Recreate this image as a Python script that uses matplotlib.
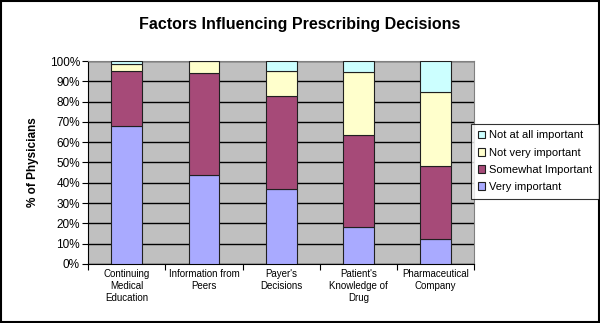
import numpy as np
import matplotlib
matplotlib.use('Agg')
import matplotlib.pyplot as plt
from matplotlib.patches import Rectangle

plt.rcParams['font.family'] = ['Liberation Sans', 'DejaVu Sans']

# data (percent)
categories = ['Continuing\nMedical\nEducation', 'Information from\nPeers', "Payer's\nDecisions",
              "Patient's\nKnowledge of\nDrug", 'Pharmaceutical\nCompany']
very_important     = [68, 44, 37, 18, 12.5]
somewhat_important = [27, 50, 46, 45.5, 36]
not_very_important = [3.5, 6, 12, 31, 36]
not_at_all         = [1.5, 0, 5, 5.5, 15.5]

series = [('Very important', very_important, '#a9aaff'),
          ('Somewhat Important', somewhat_important, '#a64a78'),
          ('Not very important', not_very_important, '#ffffcc'),
          ('Not at all important', not_at_all, '#ccffff')]

fig = plt.figure(figsize=(6.0, 3.23), dpi=100)
ax = fig.add_axes([0.147, 0.183, 0.643, 0.628])
ax.set_facecolor('#c0c0c0')

x = np.arange(len(categories))
bottom = np.zeros(len(categories))
handles = []
for name, vals, col in series:
    vals = np.array(vals, dtype=float)
    b = ax.bar(x, vals, 0.4, bottom=bottom, color=col, edgecolor='#202020',
               linewidth=0.8, label=name, zorder=3)
    handles.append(b)
    bottom = bottom + vals

ax.set_xlim(-0.5, len(categories) - 0.5)
ax.set_ylim(0, 100)
ax.set_yticks(np.arange(0, 101, 10))
ax.set_yticklabels(['%d%%' % v for v in range(0, 101, 10)], fontsize=8.5)
ax.set_xticks(np.arange(-0.5, len(categories), 1.0))
ax.set_xticklabels([])
ax.set_xticks(x, minor=True)
ax.set_xticklabels(categories, minor=True, fontsize=7)
ax.tick_params(axis='x', which='minor', length=0, pad=4)
ax.tick_params(axis='x', which='major', length=4, direction='out')
ax.tick_params(axis='y', length=4, direction='out', pad=2)
ax.yaxis.grid(True, color='black', linewidth=1.0, zorder=0)
ax.set_axisbelow(True)
for s in ['top', 'right']:
    ax.spines[s].set_color('#808080')
for s in ['left', 'bottom']:
    ax.spines[s].set_color('black')

ax.set_ylabel('% of Physicians', fontsize=8.5, fontweight='bold', labelpad=8)
fig.text(0.5, 0.925, 'Factors Influencing Prescribing Decisions', ha='center', va='center',
         fontsize=11.5, fontweight='bold')

leg = fig.legend(handles[::-1], [h.get_label() for h in handles[::-1]],
                 loc='center left', bbox_to_anchor=(0.785, 0.501), fontsize=8,
                 frameon=True, fancybox=False, edgecolor='black', handlelength=0.7,
                 handleheight=0.7, handletextpad=0.3, borderpad=0.6, labelspacing=0.65,
                 borderaxespad=0)
leg.get_frame().set_linewidth(0.8)

fig.patches.append(Rectangle((0.002, 0.004), 0.996, 0.992, transform=fig.transFigure,
                             fill=False, edgecolor='black', linewidth=1.5))

fig.savefig('out.png', dpi=100)
